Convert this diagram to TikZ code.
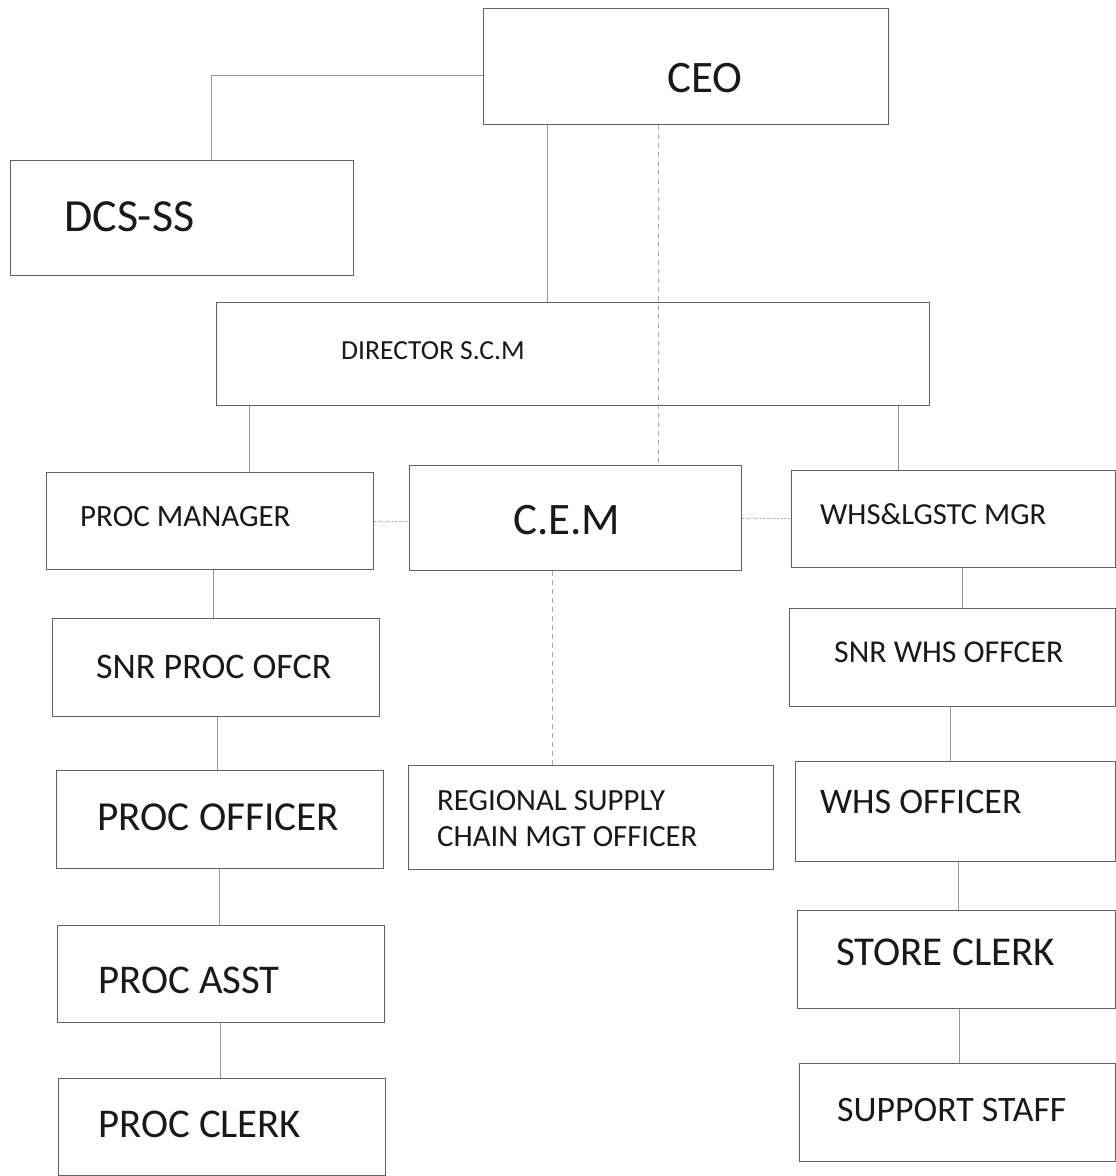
\documentclass[tikz,border=0pt]{standalone}
\usepackage{fontspec}
\setmainfont{Carlito}
\begin{document}
\begin{tikzpicture}[x=1pt,y=-1pt,
  box/.style={draw=black!62, line width=1.1pt, fill=none, rectangle, inner sep=0pt, anchor=north west},
  lbl/.style={inner sep=0pt, anchor=west, text=black!90, align=left},
  conn/.style={draw=black!40, line width=0.8pt},
  dconn/.style={draw=black!35, line width=0.7pt, dash pattern=on 5pt off 4pt},
  dotconn/.style={draw=black!30, line width=0.7pt, dash pattern=on 2pt off 1.5pt}]
\fill[white] (0,0) rectangle (1116,1176);
\useasboundingbox (0,0) rectangle (1116,1176);
\newcommand{\fs}[1]{\fontsize{#1}{#1}\selectfont}
% boxes
\node[box, minimum width=405pt, minimum height=116pt] (ceo) at (483,8) {};
\node[box, minimum width=343pt, minimum height=115pt] (dcs) at (10,160) {};
\node[box, minimum width=713pt, minimum height=103pt] (dir) at (216,302) {};
\node[box, minimum width=327pt, minimum height=97pt] (pm) at (46,472) {};
\node[box, minimum width=332pt, minimum height=105pt] (cem) at (409,465) {};
\node[box, minimum width=324pt, minimum height=97pt] (whsm) at (791,470) {};
\node[box, minimum width=327pt, minimum height=98pt] (spo) at (52,618) {};
\node[box, minimum width=326pt, minimum height=98pt] (swo) at (789,608) {};
\node[box, minimum width=327pt, minimum height=98pt] (po) at (56,770) {};
\node[box, minimum width=365pt, minimum height=104pt] (rsc) at (408,765) {};
\node[box, minimum width=320pt, minimum height=100pt] (who) at (795,761) {};
\node[box, minimum width=327pt, minimum height=97pt] (pa) at (57,925) {};
\node[box, minimum width=318pt, minimum height=98pt] (sc) at (797,910) {};
\node[box, minimum width=327pt, minimum height=97pt] (pc) at (58,1078) {};
\node[box, minimum width=316pt, minimum height=98pt] (ss) at (799,1063) {};
% labels
\node[lbl, font=\fs{45}] (tceo) at (667,78) {CEO};
\node[lbl, font=\fs{46}] (tdcs) at (64,217) {DCS-SS};
\node[lbl, font=\fs{27.6}] (tdir) at (341,351) {DIRECTOR S.C.M};
\node[lbl, font=\fs{31}] (tpm) at (80,517) {PROC MANAGER};
\node[lbl, font=\fs{45}] (tcem) at (513,520) {C.E.M};
\node[lbl, font=\fs{30.6}] (twhsm) at (820,514) {WHS\&LGSTC MGR};
\node[lbl, font=\fs{36}] (tspo) at (96,667) {SNR PROC OFCR};
\node[lbl, font=\fs{31.8}] (tswo) at (834,652) {SNR WHS OFFCER};
\node[lbl, font=\fs{41.2}] (tpo) at (97,817) {PROC OFFICER};
\node[lbl, font=\fontsize{30.8}{36}\selectfont] (trsc) at (437,819) {REGIONAL SUPPLY\\CHAIN MGT OFFICER};
\node[lbl, font=\fs{36}] (twho) at (820,802) {WHS OFFICER};
\node[lbl, font=\fs{40.8}] (tpa) at (98,980) {PROC ASST};
\node[lbl, font=\fs{41}] (tsc) at (836,952) {STORE CLERK};
\node[lbl, font=\fs{40.8}] (tpc) at (98,1124) {PROC CLERK};
\node[lbl, font=\fs{35.8}] (tss) at (837,1110) {SUPPORT STAFF};
% connectors
\draw[conn] ([yshift=-9pt]ceo.west) -| ([xshift=201pt]dcs.north west);
\draw[conn] ([xshift=64pt]ceo.south west) -- ([xshift=331pt]dir.north west);
\draw[dconn] ([xshift=175pt]ceo.south west) -- ([xshift=249pt]cem.north west);
\draw[conn] ([xshift=33pt]dir.south west) -- ([xshift=203pt]pm.north west);
\draw[conn] ([xshift=682pt]dir.south west) -- ([xshift=107pt]whsm.north west);
\draw[dotconn] (pm.east) -- (pm.east -| cem.west);
\draw[dotconn] (cem.east) -- (cem.east -| whsm.west);
\draw[conn] ([xshift=167pt]pm.south west) -- ([xshift=161pt]spo.north west);
\draw[conn] ([xshift=165pt]spo.south west) -- ([xshift=161pt]po.north west);
\draw[conn] ([xshift=163pt]po.south west) -- ([xshift=162pt]pa.north west);
\draw[conn] ([xshift=163pt]pa.south west) -- ([xshift=162pt]pc.north west);
\draw[dconn] ([xshift=143pt]cem.south west) -- ([xshift=144pt]rsc.north west);
\draw[conn] ([xshift=171pt]whsm.south west) -- ([xshift=173pt]swo.north west);
\draw[conn] ([xshift=161pt]swo.south west) -- ([xshift=155pt]who.north west);
\draw[conn] ([xshift=163pt]who.south west) -- ([xshift=161pt]sc.north west);
\draw[conn] ([xshift=162pt]sc.south west) -- ([xshift=160pt]ss.north west);
\end{tikzpicture}
\end{document}
